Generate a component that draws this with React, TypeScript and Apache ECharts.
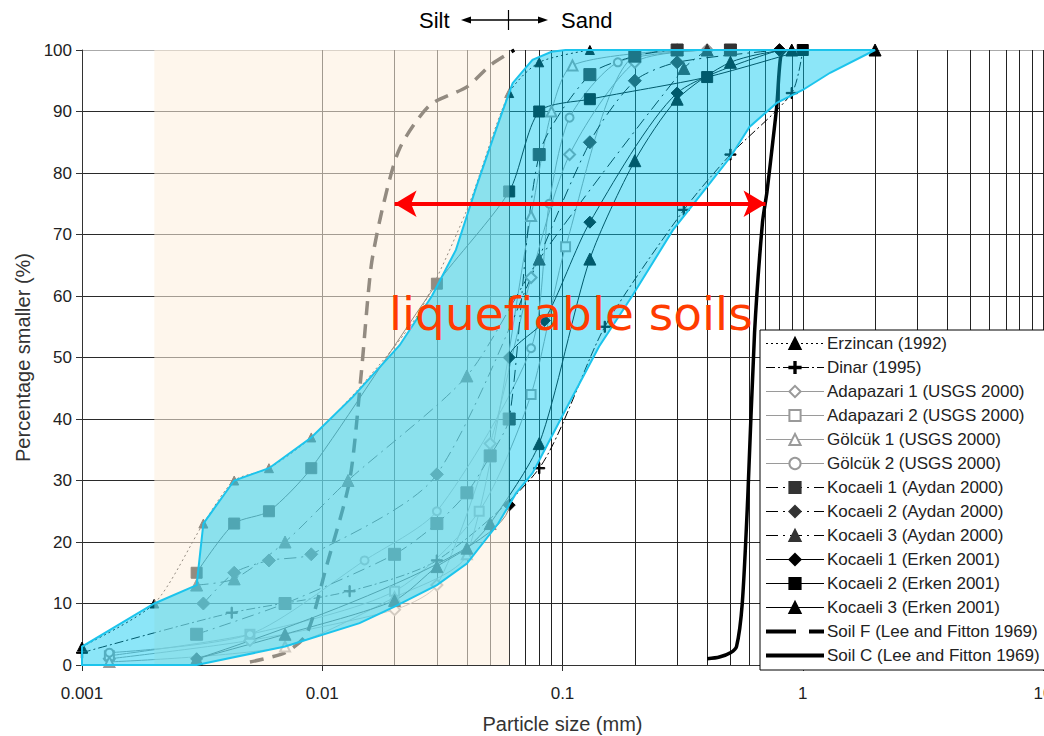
import React, { useEffect, useRef } from 'react';
import * as echarts from 'echarts';

// ---------- data ----------
type Pt = number[]; // [x (mm), y (%), optional 0 = no marker]

const X_TICK_LABELS = ['0.001', '0.01', '0.1', '1', '10'];
const Y_MIN = 0;
const Y_MAX = 100;
const Y_INTERVAL = 10;
const GRID_X = [
  0.002, 0.003, 0.004, 0.005, 0.006, 0.007, 0.008, 0.009,
  0.01, 0.02, 0.03, 0.04, 0.05, 0.06, 0.07, 0.08, 0.09,
  0.1, 0.2, 0.3, 0.4, 0.5, 0.6, 0.7, 0.8, 0.9,
  1, 2, 3, 4, 5, 6, 7, 8, 9, 10,
];
const SILT_RANGE = [0.002, 0.06];
const ARROW_RANGE = [0.02, 0.7];
const ARROW_LEVEL = 75;

const ERZINCAN: Pt[] = [[0.001, 3], [0.002, 10], [0.0032, 23], [0.0043, 30], [0.006, 32], [0.009, 37], [0.015, 46, 0], [0.025, 57, 0], [0.04, 74, 0], [0.06, 93], [0.08, 98], [0.13, 100]];
const DINAR: Pt[] = [[0.001, 2], [0.0042, 8.5], [0.013, 12], [0.03, 17], [0.08, 32], [0.15, 55], [0.32, 74], [0.5, 83], [0.9, 93], [1, 100]];
const ADAPAZARI1: Pt[] = [[0.0013, 1], [0.005, 4], [0.02, 9], [0.03, 13], [0.05, 36], [0.074, 63], [0.107, 83], [0.2, 98], [0.4, 100]];
const ADAPAZARI2: Pt[] = [[0.0013, 1.5], [0.005, 5], [0.02, 12], [0.045, 25], [0.074, 44], [0.103, 68], [0.2, 99], [0.5, 100]];
const GOLCUK1: Pt[] = [[0.0013, 0.5], [0.007, 3], [0.02, 11], [0.04, 18], [0.074, 73], [0.09, 90], [0.11, 97.5], [0.3, 100]];
const GOLCUK2: Pt[] = [[0.0013, 2], [0.005, 5], [0.015, 17], [0.03, 25], [0.074, 51.5], [0.088, 75], [0.107, 89], [0.17, 98], [0.4, 100]];
const KOCAELI1_AYDAN: Pt[] = [[0.003, 5], [0.007, 10], [0.02, 18], [0.03, 23], [0.04, 28], [0.05, 34], [0.06, 40], [0.08, 83], [0.13, 96], [0.2, 99], [0.3, 100], [0.5, 100]];
const KOCAELI2_AYDAN: Pt[] = [[0.0032, 10], [0.0043, 15], [0.006, 17], [0.009, 18], [0.03, 31], [0.13, 85], [0.2, 95], [0.3, 98], [0.8, 100]];
const KOCAELI3_AYDAN: Pt[] = [[0.003, 13], [0.0043, 14], [0.007, 20], [0.0128, 30], [0.04, 47], [0.08, 66], [0.32, 97], [0.4, 100]];
const KOCAELI1_ERKEN: Pt[] = [[0.003, 1], [0.06, 26], [0.06, 50], [0.084, 56], [0.13, 72], [0.3, 93], [0.8, 100]];
const KOCAELI2_ERKEN: Pt[] = [[0.003, 15], [0.0043, 23], [0.006, 25], [0.009, 32], [0.03, 62], [0.06, 77], [0.08, 90], [0.13, 92], [0.4, 95.6], [1, 100]];
const KOCAELI3_ERKEN: Pt[] = [[0.003, 1], [0.007, 5], [0.02, 10.5], [0.03, 16], [0.04, 19], [0.05, 23], [0.08, 36], [0.13, 66], [0.2, 82], [0.3, 92], [0.5, 98], [0.9, 100], [2, 100]];
const SOIL_F: Pt[] = [[0.005, 0.5], [0.007, 2], [0.0086, 5], [0.0104, 16], [0.013, 30], [0.0145, 47], [0.016, 65], [0.018, 75], [0.021, 84], [0.028, 91], [0.04, 94], [0.05, 97.5], [0.06, 99.5], [0.063, 100]];
const SOIL_C: Pt[] = [[0.4, 1], [0.45, 1.3], [0.5, 2], [0.53, 3], [0.56, 10], [0.59, 27], [0.63, 54], [0.68, 72], [0.71, 77], [0.75, 85], [0.78, 91], [0.81, 99], [0.85, 100]];

const BAND: Pt[] = [
  [0.001, 0], [0.001, 3], [0.002, 10], [0.003, 13], [0.0032, 23], [0.0043, 30], [0.006, 32], [0.009, 37],
  [0.0134, 43.6], [0.021, 52], [0.0286, 60], [0.036, 67.5], [0.044, 78], [0.0497, 84], [0.0546, 88.6],
  [0.062, 94.6], [0.075, 98.4], [0.09, 99.7], [0.103, 100], [2, 100],
  [1.3, 96.3], [1, 93.5], [0.78, 91.4], [0.6, 87.5], [0.5, 82.6], [0.4, 77.8], [0.288, 70.7], [0.195, 60],
  [0.142, 51.8], [0.103, 41.5], [0.075, 31.2], [0.064, 27.9], [0.054, 23], [0.04, 16.5], [0.03, 13],
  [0.02, 9.5], [0.0143, 6.8], [0.007, 3], [0.003, 0],
];

// ---------- styles ----------
const FONT = 'Liberation Sans, Arial, sans-serif';
const PLUS = 'path://M4.4,0h1.2v10h-1.2zM0,4.4h10v1.2h-10z';
const GREY = '#9a9a9a';

const SERIES_DEFS = [
  { name: 'Erzincan (1992)', data: ERZINCAN, color: '#000', mark: '#000', dash: [2, 3], symbol: 'triangle', size: 9, width: 1 },
  { name: 'Dinar (1995)', data: DINAR, color: '#000', mark: '#000', dash: [9, 3, 2, 3], symbol: PLUS, size: 11, width: 1 },
  { name: 'Adapazari 1 (USGS 2000)', data: ADAPAZARI1, color: GREY, mark: GREY, dash: 'solid', symbol: 'emptyDiamond', size: 11, width: 1 },
  { name: 'Adapazari 2 (USGS 2000)', data: ADAPAZARI2, color: GREY, mark: GREY, dash: 'solid', symbol: 'emptyRect', size: 9, width: 1 },
  { name: 'Gölcük 1 (USGS 2000)', data: GOLCUK1, color: GREY, mark: GREY, dash: 'solid', symbol: 'emptyTriangle', size: 10, width: 1 },
  { name: 'Gölcük 2 (USGS 2000)', data: GOLCUK2, color: GREY, mark: GREY, dash: 'solid', symbol: 'emptyCircle', size: 8, width: 1 },
  { name: 'Kocaeli 1 (Aydan 2000)', data: KOCAELI1_AYDAN, color: '#000', mark: '#333', dash: [12, 5, 2, 5], symbol: 'rect', size: 12, width: 1 },
  { name: 'Kocaeli 2 (Aydan 2000)', data: KOCAELI2_AYDAN, color: '#000', mark: '#333', dash: [12, 5, 2, 5], symbol: 'diamond', size: 13, width: 1 },
  { name: 'Kocaeli 3 (Aydan 2000)', data: KOCAELI3_AYDAN, color: '#000', mark: '#333', dash: [12, 5, 2, 5], symbol: 'triangle', size: 12, width: 1 },
  { name: 'Kocaeli 1 (Erken 2001)', data: KOCAELI1_ERKEN, color: '#000', mark: '#000', dash: 'solid', symbol: 'diamond', size: 12, width: 1 },
  { name: 'Kocaeli 2 (Erken 2001)', data: KOCAELI2_ERKEN, color: '#000', mark: '#000', dash: 'solid', symbol: 'rect', size: 11, width: 1 },
  { name: 'Kocaeli 3 (Erken 2001)', data: KOCAELI3_ERKEN, color: '#000', mark: '#000', dash: 'solid', symbol: 'triangle', size: 12, width: 1 },
  { name: 'Soil F (Lee and Fitton 1969)', data: SOIL_F, color: '#000', mark: '#000', dash: [14, 9], symbol: 'none', size: 0, width: 3.5, legendDash: [30, 13] },
  { name: 'Soil C (Lee and Fitton 1969)', data: SOIL_C, color: '#000', mark: '#000', dash: 'solid', symbol: 'none', size: 0, width: 3.5, legendDash: 'solid' },
];

function toData(pts: Pt[]) {
  return pts.map((p) => (p.length > 2 ? { value: [p[0], p[1]], symbol: 'none' } : [p[0], p[1]]));
}

export default function App() {
  const ref = useRef<HTMLDivElement>(null);

  useEffect(() => {
    if (!ref.current) return;
    const chart = echarts.init(ref.current, undefined, { renderer: 'svg' });

    const yCount = Math.round((Y_MAX - Y_MIN) / Y_INTERVAL) + 1;
    const splitColors = Array.from({ length: yCount }, (_, i) => (i === yCount - 1 ? '#aaaaaa' : '#2a2a2a'));

    const dataSeries = SERIES_DEFS.map((d) => ({
      type: 'line',
      name: d.name,
      data: toData(d.data),
      smooth: 0.25,
      symbol: d.symbol,
      symbolSize: d.size,
      showSymbol: d.symbol !== 'none',
      lineStyle: { color: d.color, width: d.width, type: d.dash },
      itemStyle: { color: d.mark, borderColor: d.mark, borderWidth: 1 },
      z: 2,
      silent: true,
    }));

    const legendData = SERIES_DEFS.map((d) =>
      d.symbol === 'none'
        ? {
            name: d.name,
            itemStyle: { color: 'rgba(0,0,0,0)', borderColor: 'rgba(0,0,0,0)', borderWidth: 0 },
            lineStyle: { width: 4, type: (d as any).legendDash, color: '#000' },
          }
        : { name: d.name, lineStyle: { width: 1, type: d.dash, color: d.color } }
    );

    const option: any = {
      animation: false,
      backgroundColor: '#fff',
      textStyle: { fontFamily: FONT },
      grid: { left: 82, right: 1, top: 50, bottom: 71, containLabel: false, outerBoundsMode: 'none' },
      xAxis: {
        type: 'log',
        logBase: 10,
        min: 0.001,
        max: 10,
        name: 'Particle size (mm)',
        nameLocation: 'middle',
        nameGap: 49,
        nameTextStyle: { fontSize: 20, color: '#333', fontFamily: FONT },
        axisLine: { show: true, lineStyle: { color: '#333', width: 1 } },
        axisTick: { show: true, length: 6, lineStyle: { color: '#333' } },
        axisLabel: {
          fontSize: 17,
          color: '#222',
          margin: 20,
          fontFamily: FONT,
          formatter: (v: number) => {
            const idx = Math.round(Math.log10(v) + 3);
            return X_TICK_LABELS[idx] ?? String(v);
          },
        },
        splitLine: { show: false },
        minorTick: { show: false },
      },
      yAxis: {
        type: 'value',
        min: Y_MIN,
        max: Y_MAX,
        interval: Y_INTERVAL,
        name: 'Percentage smaller (%)',
        nameLocation: 'middle',
        nameGap: 40,
        nameTextStyle: { fontSize: 20, color: '#333', fontFamily: FONT },
        axisLine: { show: true, lineStyle: { color: '#333', width: 1 } },
        axisTick: { show: true, length: 6, lineStyle: { color: '#333' } },
        axisLabel: { fontSize: 17, color: '#222', margin: 10, fontFamily: FONT },
        splitLine: { show: true, lineStyle: { color: splitColors, width: 1 } },
      },
      legend: {
        data: legendData,
        orient: 'vertical',
        left: 760,
        top: 330,
        itemWidth: 58,
        itemHeight: 14,
        itemGap: 7,
        padding: [5, 5, 6, 4],
        backgroundColor: '#fff',
        borderColor: '#000',
        borderWidth: 1,
        borderRadius: 0,
        lineStyle: { width: 1 },
        textStyle: { fontSize: 17, lineHeight: 17, color: '#222', fontFamily: FONT, padding: [0, 0, 0, -2] },
        selectedMode: false,
        z: 10,
      },
      graphic: [
        { type: 'text', x: 419, y: 20, z: 100, style: { text: 'Silt', fontSize: 22, fontFamily: FONT, fill: '#000', verticalAlign: 'middle' } },
        { type: 'text', x: 561, y: 20, z: 100, style: { text: 'Sand', fontSize: 22, fontFamily: FONT, fill: '#000', verticalAlign: 'middle' } },
        { type: 'line', z: 100, shape: { x1: 464, y1: 20, x2: 545, y2: 20 }, style: { stroke: '#000', lineWidth: 1.3 } },
        { type: 'line', z: 100, shape: { x1: 508.5, y1: 10, x2: 508.5, y2: 30 }, style: { stroke: '#000', lineWidth: 1.2 } },
        { type: 'polygon', z: 100, shape: { points: [[461, 20], [471, 16.5], [471, 23.5]] }, style: { fill: '#000' } },
        { type: 'polygon', z: 100, shape: { points: [[548, 20], [538, 16.5], [538, 23.5]] }, style: { fill: '#000' } },
        { type: 'text', x: 389, y: 313, z: 100, style: { text: 'liquefiable soils', fontSize: 47, fontFamily: 'DejaVu Sans', fill: '#ff3c00', verticalAlign: 'middle' } },
      ],
      series: [
        {
          type: 'line',
          name: '__grid',
          data: [[0.01, 50]],
          showSymbol: false,
          lineStyle: { width: 0 },
          silent: true,
          z: 1,
          markLine: {
            z: 1,
            silent: true,
            symbol: ['none', 'none'],
            label: { show: false },
            lineStyle: { color: '#222', width: 1, type: 'solid' },
            data: GRID_X.map((v) => ({ xAxis: v })),
          },
        },
        ...dataSeries,
        {
          type: 'line',
          name: '__silt',
          data: [[0.01, 50]],
          showSymbol: false,
          lineStyle: { width: 0 },
          silent: true,
          z: 3,
          markArea: {
            z: 3,
            silent: true,
            itemStyle: { color: 'rgba(253,240,222,0.58)' },
            data: [[{ xAxis: SILT_RANGE[0], yAxis: Y_MIN }, { xAxis: SILT_RANGE[1], yAxis: Y_MAX }]],
          },
        },
        {
          type: 'custom',
          name: '__band',
          data: [[0.01, 50]],
          silent: true,
          z: 4,
          clip: false,
          renderItem: (_params: any, api: any) => {
            const pts = BAND.map((p) => api.coord([p[0], p[1]]));
            return {
              type: 'polygon',
              shape: { points: pts },
              style: { fill: 'rgba(0,200,240,0.45)', stroke: '#1cc4ec', lineWidth: 2 },
            };
          },
        },
        {
          type: 'line',
          name: '__arrow',
          data: [[0.01, 50]],
          showSymbol: false,
          lineStyle: { width: 0 },
          silent: true,
          z: 6,
          markLine: {
            z: 6,
            silent: true,
            symbol: ['arrow', 'arrow'],
            symbolSize: [20, 22],
            label: { show: false },
            lineStyle: { color: '#ff0000', width: 4, type: 'solid' },
            data: [[{ coord: [ARROW_RANGE[0], ARROW_LEVEL] }, { coord: [ARROW_RANGE[1], ARROW_LEVEL] }]],
          },
        },
      ],
    };

    chart.setOption(option);
    return () => chart.dispose();
  }, []);

  return <div ref={ref} style={{ position: 'fixed', left: 0, top: 0, width: 1044, height: 736 }} />;
}
